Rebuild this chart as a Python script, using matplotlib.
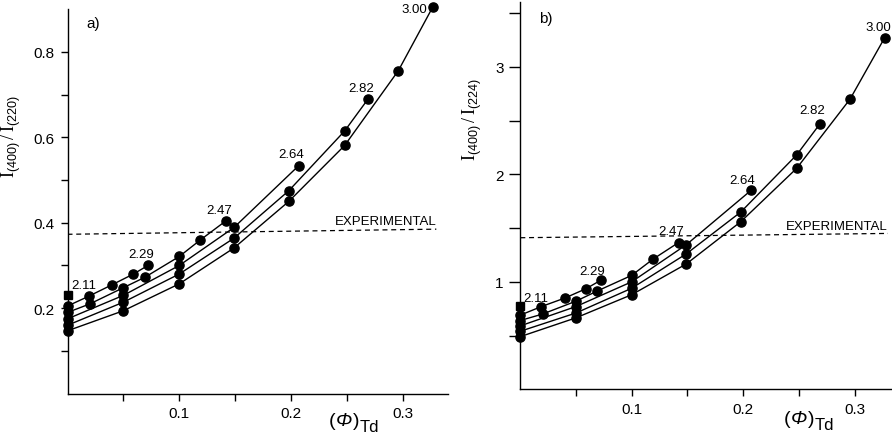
import matplotlib
matplotlib.use('Agg')
import matplotlib.pyplot as plt
from matplotlib.ticker import FixedFormatter, FixedLocator

plt.rcParams['font.family'] = ['Liberation Sans', 'DejaVu Sans']
plt.rcParams['mathtext.fontset'] = 'custom'
plt.rcParams['mathtext.rm'] = 'Liberation Serif'
plt.rcParams['mathtext.sf'] = 'Liberation Sans'
plt.rcParams['mathtext.it'] = 'Liberation Sans:italic'

# ---- data ----
curve_labels = ['2.11', '2.29', '2.47', '2.64', '2.82', '3.00']

phi_211 = [0.0]
phi_229 = [0.0, 0.019, 0.040, 0.059, 0.072]
phi_247 = [0.0, 0.020, 0.050, 0.069, 0.100, 0.119, 0.142]
phi_264 = [0.0, 0.050, 0.100, 0.149, 0.207]
phi_282 = [0.0, 0.050, 0.100, 0.149, 0.198, 0.248, 0.269]
phi_300 = [0.0, 0.050, 0.100, 0.149, 0.198, 0.248, 0.296, 0.327]

a_211 = [0.231]
a_229 = [0.205, 0.228, 0.255, 0.280, 0.300]
a_247 = [0.190, 0.210, 0.248, 0.272, 0.321, 0.360, 0.405]
a_264 = [0.175, 0.230, 0.300, 0.389, 0.534]
a_282 = [0.160, 0.214, 0.280, 0.364, 0.475, 0.615, 0.690]
a_300 = [0.147, 0.194, 0.257, 0.341, 0.450, 0.581, 0.756, 0.906]

b_211 = [0.775]
b_229 = [0.690, 0.770, 0.849, 0.936, 1.013]
b_247 = [0.640, 0.700, 0.820, 0.914, 1.060, 1.210, 1.365]
b_264 = [0.590, 0.770, 1.000, 1.345, 1.850]
b_282 = [0.540, 0.710, 0.940, 1.260, 1.650, 2.180, 2.470]
b_300 = [0.490, 0.665, 0.880, 1.166, 1.560, 2.055, 2.700, 3.270]

exp_phi = [0.0, 0.33]
exp_a = [0.373, 0.385]
exp_b = [1.41, 1.45]

phis = [phi_211, phi_229, phi_247, phi_264, phi_282, phi_300]
vals_a = [a_211, a_229, a_247, a_264, a_282, a_300]
vals_b = [b_211, b_229, b_247, b_264, b_282, b_300]

# label positions (data coords) per panel
lab_pos_a = [(0.0142, 0.255), (0.0659, 0.326), (0.1356, 0.431),
             (0.200, 0.562), (0.263, 0.716), (0.310, 0.900)]
lab_pos_b = [(0.0139, 0.850), (0.0646, 1.104), (0.1353, 1.471),
             (0.1987, 1.949), (0.262, 2.594), (0.321, 3.37)]

W, H = 892, 439
fig = plt.figure(figsize=(W / 100, H / 100), dpi=100)

axa = fig.add_axes([67.5 / W, 1 - 394.6 / H, 380 / W, 384.4 / H])
axb = fig.add_axes([520.3 / W, 1 - 390.3 / H, (W - 520.3) / W, 387 / H])


def draw(ax, vals, lab_pos, exp_vals, ylim, xlim, ymaj, ylabels, ylabel, tag, tagpos, exppos):
    for i, (x, y) in enumerate(zip(phis, vals)):
        if len(x) == 1:
            ax.plot(x, y, 's', color='black', ms=5.8, clip_on=False, zorder=4)
        else:
            ax.plot(x, y, '-', color='black', lw=1.0, zorder=2)
            ax.plot(x, y, 'o', color='black', ms=6.6, clip_on=False, zorder=3)
    for lab, (px, py) in zip(curve_labels, lab_pos):
        ax.text(px, py, lab, ha='center', va='center', fontsize=9.5)
    ax.plot(exp_phi, exp_vals, color='black', lw=0.9, ls=(0, (4, 3)))
    ax.text(exppos[0], exppos[1], 'EXPERIMENTAL', ha='center', va='center', fontsize=9.5)
    ax.text(tagpos[0], tagpos[1], tag, ha='center', va='center', fontsize=11)
    ax.set_xlim(*xlim)
    ax.set_ylim(*ylim)
    ax.spines['top'].set_visible(False)
    ax.spines['right'].set_visible(False)
    ax.spines['left'].set_linewidth(1.0)
    ax.spines['bottom'].set_linewidth(1.0)
    ax.xaxis.set_major_locator(FixedLocator([0.05, 0.1, 0.15, 0.2, 0.25, 0.3]))
    ax.xaxis.set_major_formatter(FixedFormatter(['', '0.1', '', '0.2', '', '0.3']))
    ax.yaxis.set_major_locator(FixedLocator(ymaj))
    ax.yaxis.set_major_formatter(FixedFormatter(ylabels))
    ax.tick_params(axis='both', direction='out', length=5, width=1.0, labelsize=11, pad=4)
    ax.set_ylabel(ylabel, fontsize=13)


draw(axa, vals_a, lab_pos_a, exp_a, (0, 0.9), (0, 0.34),
     [0.1, 0.2, 0.3, 0.4, 0.5, 0.6, 0.7, 0.8], ['', '0.2', '', '0.4', '', '0.6', '', '0.8'],
     r'$\mathrm{I}_{\mathsf{(400)}}\,/\,\mathrm{I}_{\mathsf{(220)}}$', 'a)', (0.023, 0.867), (0.2848, 0.405))
draw(axb, vals_b, lab_pos_b, exp_b, (0, 3.6), (0, 0.3336),
     [0.5, 1, 1.5, 2, 2.5, 3, 3.5], ['', '1', '', '2', '', '3', ''],
     r'$\mathrm{I}_{\mathsf{(400)}}\,/\,\mathrm{I}_{\mathsf{(224)}}$', 'b)', (0.023, 3.45), (0.2843, 1.518))

axb.tick_params(axis='y', length=8)

axa.yaxis.set_label_coords(-0.118, 0.671)
axb.yaxis.set_label_coords(-0.098, 0.70)

# x-axis titles "(Φ)Td" with italic Φ and subscript Td, built from pieces
renderer = fig.canvas.get_renderer()


def phi_label(x_px, base_px):
    pieces = [('(', 'normal', 14, 0), ('Φ', 'italic', 14, 0),
              (')', 'normal', 14, 0), ('Td', 'normal', 12, 6)]
    x = x_px
    for s, style, size, dy in pieces:
        t = fig.text(x / W, 1 - (base_px + dy) / H, s, fontsize=size,
                     fontstyle=style, ha='left', va='baseline')
        x += t.get_window_extent(renderer=renderer).width + 0.5


phi_label(329, 426)
phi_label(784, 424)

fig.savefig('out.png', dpi=100)
